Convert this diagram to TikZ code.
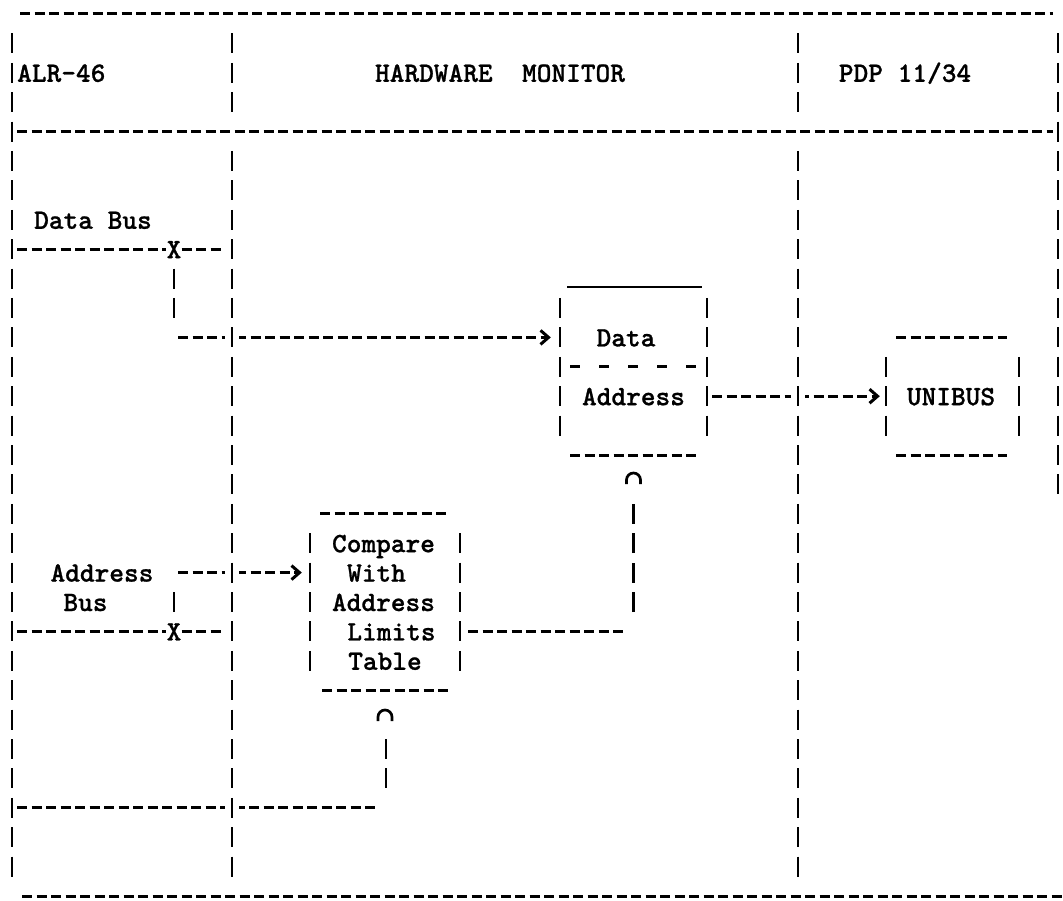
\documentclass[tikz,border=0pt]{standalone}
\usepackage{fontspec}
\newfontfamily\twfont{lmmonolt10-bold.otf}[FakeBold=0.8]
\usetikzlibrary{arrows.meta}
\begin{document}
\begin{tikzpicture}[x=1pt,y=-1pt,
  hd/.style={line width=3pt, dash pattern=on 10pt off 4.5pt},
  vd/.style={line width=2.7pt, dash pattern=on 20pt off 9.4pt},
  solidline/.style={line width=2.7pt},
  sd/.style={line width=3pt, dash pattern=on 10pt off 19pt},
  txt/.style={font=\fontsize{28}{30}\selectfont\twfont, inner sep=0pt, anchor=base},
  chev/.style={-{Straight Barb[length=8pt,width=14pt]}},
  archline/.style={line width=2.7pt},
  knock/.style={fill=white, draw=none}
]
\useasboundingbox (0,0) rectangle (1063,901);
% row reference coordinates
\coordinate (r11) at (0,337.4);
\coordinate (r13) at (0,396.2);
\coordinate (r19) at (0,572.6);

% ---------- outer frame (horizontal) ----------
\draw[hd] (20,14) -- (1053,14);
\draw[hd] (17,131.6) -- (1053,131.6);
\draw[hd] (22,896) -- (1063,896);

% ---------- header texts ----------
\node[txt,anchor=base west] (alr) at (17,81.8) {ALR-46};
\node[txt] (hm) at (500,81.8) {HARDWARE\ \ MONITOR};
\node[txt] (pdp) at (905,81.8) {PDP 11/34};

% ---------- Data / Address box ----------
\node[minimum width=147pt, minimum height=168pt, inner sep=0pt] (data) at (633.5,371) {};
\draw[solidline] (567,287) -- (702,287);
\draw[vd] (560,298) -- (560,435.6);
\draw[vd] (707,298) -- (707,435.6);
\draw[sd] (570,366.8) -- (697,366.8);
\draw[hd] (570,455) -- (697,455);
\node[txt] (datat) at (626,346.4) {Data};
\node[txt] (addrt) at (633.5,405.2) {Address};

% ---------- UNIBUS box ----------
\node[minimum width=133pt, minimum height=118pt, inner sep=0pt] (uni) at (952.5,396.2) {};
\draw[hd] (896,337.4) -- (1007,337.4);
\draw[hd] (896,455) -- (1007,455);
\draw[vd] (886,356.8) -- (886,435.6);
\draw[vd] (1019,356.8) -- (1019,435.6);
\node[txt] (unit) at (951,405.2) {UNIBUS};

% ---------- Compare box ----------
\node[minimum width=150pt, minimum height=176pt, inner sep=0pt] (cmp) at (385,605) {};
\draw[hd] (320,513.8) -- (447,513.8);
\draw[hd] (322,690.2) -- (448,690.2);
\draw[vd] (310,533.2) -- (310,670.8);
\draw[vd] (460,533.2) -- (460,670.8);
\node[txt] (c1) at (383.5,552.2) {Compare};
\node[txt] (c2) at (376.5,581.6) {With};
\node[txt] (c3) at (383.5,611) {Address};
\node[txt] (c4) at (391.5,640.4) {Limits};
\node[txt] (c5) at (385,669.8) {Table};

% ---------- Data bus ----------
\node[txt,anchor=base west] (dbus) at (34,228.8) {Data Bus};
\node[txt] (xd) at (174,258.2) {X};
\draw[hd] (17,249.2) -- (xd.west |- 0,249.2);
\draw[hd] (xd.east |- 0,249.2) -- (221,249.2);
\draw[vd] (174,268.6) -- (174,318);
\draw[hd,chev,shorten >=9pt] (178,337.4) -- (data.west |- r11);

% ---------- Data box -> UNIBUS ----------
\draw[hd,chev,shorten >=6pt] (712,396.2) -- (uni.west |- r13);

% ---------- Address bus ----------
\node[txt] (abus) at (102,581.6) {Address};
\node[txt] (bus) at (85.5,611) {Bus};
\node[txt] (xa) at (174,640.4) {X};
\draw[hd] (17,631.4) -- (xa.west |- 0,631.4);
\draw[hd] (xa.east |- 0,631.4) -- (221,631.4);
\draw[vd] (174,592) -- (174,612);
\draw[hd,chev,shorten >=8pt] (178,572.6) -- (cmp.west |- r19);

% ---------- Limits -> Data box (upward) ----------
\coordinate (capd) at (633.5,479);
\draw[hd] (468,631.4) -- (627,631.4);
\draw[vd] (633.5,612) -- (633.5,503.8);
\draw[archline] (capd) ++(-7,5) -- ++(0,-4) arc[start angle=180, end angle=360, radius=7] -- ++(0,4);

% ---------- bottom line -> Compare box (upward) ----------
\coordinate (capc) at (385,716);
\draw[hd] (17,807.8) -- (375,807.8);
\draw[vd] (386,739) -- (386,788.4);
\draw[archline] (capc) ++(-7,5) -- ++(0,-4) arc[start angle=180, end angle=360, radius=7] -- ++(0,4);

% ---------- knockouts where | crosses a dashed line ----------
\fill[knock] (225,332) rectangle (239,343);
\fill[knock] (225,567) rectangle (239,578);
\fill[knock] (225,802) rectangle (239,813);
\fill[knock] (791,391) rectangle (805,402);

% ---------- frame verticals ----------
\draw[vd] (12,33.4) -- (12,876.6);
\draw[vd] (232,33.4) -- (232,112.2);
\draw[vd] (232,151) -- (232,876.6);
\draw[vd] (798,33.4) -- (798,112.2);
\draw[vd] (798,151) -- (798,876.6);
\draw[vd] (1058,33.4) -- (1058,494.4);
\end{tikzpicture}
\end{document}
